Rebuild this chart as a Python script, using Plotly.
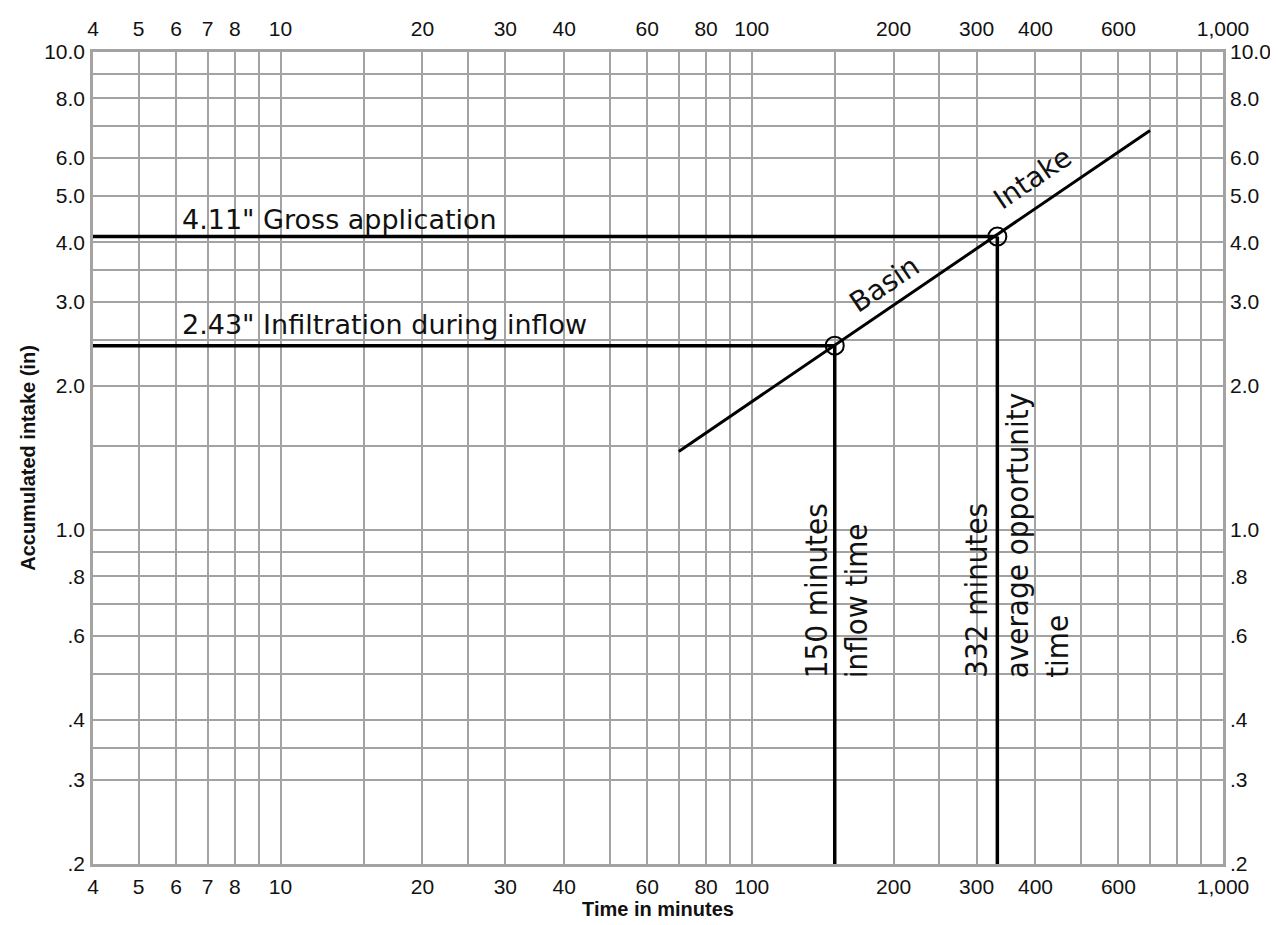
import math
import plotly.graph_objects as go

# ---------------- data ----------------
x_range = [4, 1000]                 # time in minutes (log axis)
y_range = [0.2, 10]                 # accumulated intake, inches (log axis)

x_grid_vals = [4, 5, 6, 7, 8, 9, 10, 15, 20, 25, 30, 40, 50, 60, 70, 80, 90,
               100, 150, 200, 250, 300, 400, 500, 600, 700, 800, 900, 1000]
x_tick_labels = {4: "4", 5: "5", 6: "6", 7: "7", 8: "8", 10: "10", 20: "20",
                 30: "30", 40: "40", 60: "60", 80: "80", 100: "100",
                 200: "200", 300: "300", 400: "400", 600: "600", 1000: "1,000"}

y_grid_vals = [0.2, 0.3, 0.35, 0.4, 0.5, 0.6, 0.7, 0.8, 0.9, 1.0, 1.5, 2.0,
               2.5, 3.0, 3.5, 4.0, 5.0, 6.0, 7.0, 8.0, 9.0, 10.0]
y_tick_labels = {0.2: ".2", 0.3: ".3", 0.4: ".4", 0.6: ".6", 0.8: ".8",
                 1.0: "1.0", 2.0: "2.0", 3.0: "3.0", 4.0: "4.0", 5.0: "5.0",
                 6.0: "6.0", 8.0: "8.0", 10.0: "10.0"}

intake_line_times = [70, 700]
intake_line_depths = [1.46, 6.85]

point_times = [150, 332]            # inflow time, average opportunity time
point_depths = [2.43, 4.11]         # infiltration during inflow, gross application

# ---------------- styling helpers ----------------
W, H = 1278, 925
ML, MR, MT, MB = 85, 63, 44, 69
PW, PH = W - ML - MR, H - MT - MB


def px_x(p):
    return (p - ML) / PW


def px_y(p):
    return (H - MB - p) / PH


GRID = "#a3a3a3"
ARIAL = "Arial, Liberation Sans, sans-serif"
TICK_FONT = dict(family=ARIAL, size=21, color="#111")
ANN_FONT = dict(family="DejaVu Sans, sans-serif", size=27, color="#111")
SLANT_FONT = dict(family="DejaVu Sans, sans-serif", size=28, color="#111")
VERT_FONT = dict(family="DejaVu Sans Condensed, DejaVu Sans, sans-serif", size=31, color="#111")

x_text = [x_tick_labels.get(v, "") for v in x_grid_vals]
y_text = [y_tick_labels.get(v, "") for v in y_grid_vals]

fig = go.Figure()

# guide lines to the axes
for t, d in zip(point_times, point_depths):
    fig.add_trace(go.Scatter(x=[x_range[0], t], y=[d, d], mode="lines",
                             line=dict(color="black", width=3.5),
                             showlegend=False, hoverinfo="skip"))
    fig.add_trace(go.Scatter(x=[t, t], y=[y_range[0], d], mode="lines",
                             line=dict(color="black", width=3.5),
                             showlegend=False, hoverinfo="skip"))

# basin intake line
fig.add_trace(go.Scatter(x=intake_line_times, y=intake_line_depths, mode="lines",
                         line=dict(color="black", width=3), showlegend=False))

# points
fig.add_trace(go.Scatter(x=point_times, y=point_depths, mode="markers",
                         marker=dict(symbol="circle-open", size=18, color="black",
                                     line=dict(width=2)),
                         showlegend=False))

common_x = dict(type="log", range=[math.log10(x_range[0]), math.log10(x_range[1])],
                tickmode="array", tickvals=x_grid_vals, ticktext=x_text,
                tickfont=TICK_FONT, ticks="", zeroline=False, fixedrange=True,
                automargin=False)
common_y = dict(type="log", range=[math.log10(y_range[0]), math.log10(y_range[1])],
                tickmode="array", tickvals=y_grid_vals, ticktext=y_text,
                tickfont=TICK_FONT, ticks="", zeroline=False, fixedrange=True,
                automargin=False)

fig.update_layout(
    width=W, height=H,
    margin=dict(l=ML, r=MR, t=MT, b=MB, pad=0, autoexpand=False),
    paper_bgcolor="white", plot_bgcolor="white",
    xaxis=dict(**common_x, showgrid=True, gridcolor=GRID, gridwidth=1.5,
               showline=True, linecolor=GRID, linewidth=2.5, mirror=True,
               ticklabelstandoff=2,
               title=dict(text="<b>Time in minutes</b>",
                          font=dict(family=ARIAL, size=20, color="#111"),
                          standoff=1)),
    xaxis2=dict(**common_x, overlaying="x", side="top", showgrid=False,
                showline=False, ticklabelstandoff=11),
    yaxis=dict(**common_y, showgrid=True, gridcolor=GRID, gridwidth=1.5,
               showline=True, linecolor=GRID, linewidth=2.5, mirror=True,
               ticklabelstandoff=1,
               title=dict(text="<b>Accumulated intake (in)</b>",
                          font=dict(family=ARIAL, size=20, color="#111"),
                          standoff=4)),
    yaxis2=dict(**common_y, overlaying="y", side="right", showgrid=False,
                showline=False, ticklabelstandoff=6),
)

# invisible trace to activate the secondary axes
fig.add_trace(go.Scatter(x=[x_range[0]], y=[y_range[0]], xaxis="x2", yaxis="y2",
                         mode="markers", marker=dict(opacity=0), showlegend=False,
                         hoverinfo="skip"))

t150, t332 = (math.log10(t) for t in point_times)
annotations = [
    dict(text='4.11" Gross application', xref="paper", x=px_x(172), yref="paper", y=px_y(212),
         xanchor="left", yanchor="middle", font=ANN_FONT),
    dict(text='2.43" Infiltration during inflow', xref="paper", x=px_x(172), yref="paper",
         y=px_y(316), xanchor="left", yanchor="middle", font=ANN_FONT),
    dict(text="Basin", xref="paper", x=px_x(876), yref="paper", y=px_y(276),
         xanchor="center", yanchor="middle", font=SLANT_FONT, textangle=-34),
    dict(text="Intake", xref="paper", x=px_x(1024), yref="paper", y=px_y(170),
         xanchor="center", yanchor="middle", font=SLANT_FONT, textangle=-34),
    dict(text="150 minutes", xref="x", x=t150, xshift=-19, yref="paper", y=px_y(672),
         xanchor="center", yanchor="bottom", font=VERT_FONT, textangle=-90),
    dict(text="inflow time", xref="x", x=t150, xshift=21, yref="paper", y=px_y(672),
         xanchor="center", yanchor="bottom", font=VERT_FONT, textangle=-90),
    dict(text="332 minutes", xref="x", x=t332, xshift=-22, yref="paper", y=px_y(672),
         xanchor="center", yanchor="bottom", font=VERT_FONT, textangle=-90),
    dict(text="average opportunity", xref="x", x=t332, xshift=20, yref="paper", y=px_y(672),
         xanchor="center", yanchor="bottom", font=VERT_FONT, textangle=-90),
    dict(text="time", xref="x", x=t332, xshift=59, yref="paper", y=px_y(672),
         xanchor="center", yanchor="bottom", font=VERT_FONT, textangle=-90),
]
for a in annotations:
    a.update(showarrow=False)
fig.update_layout(annotations=annotations)

fig.write_html("out.html")
